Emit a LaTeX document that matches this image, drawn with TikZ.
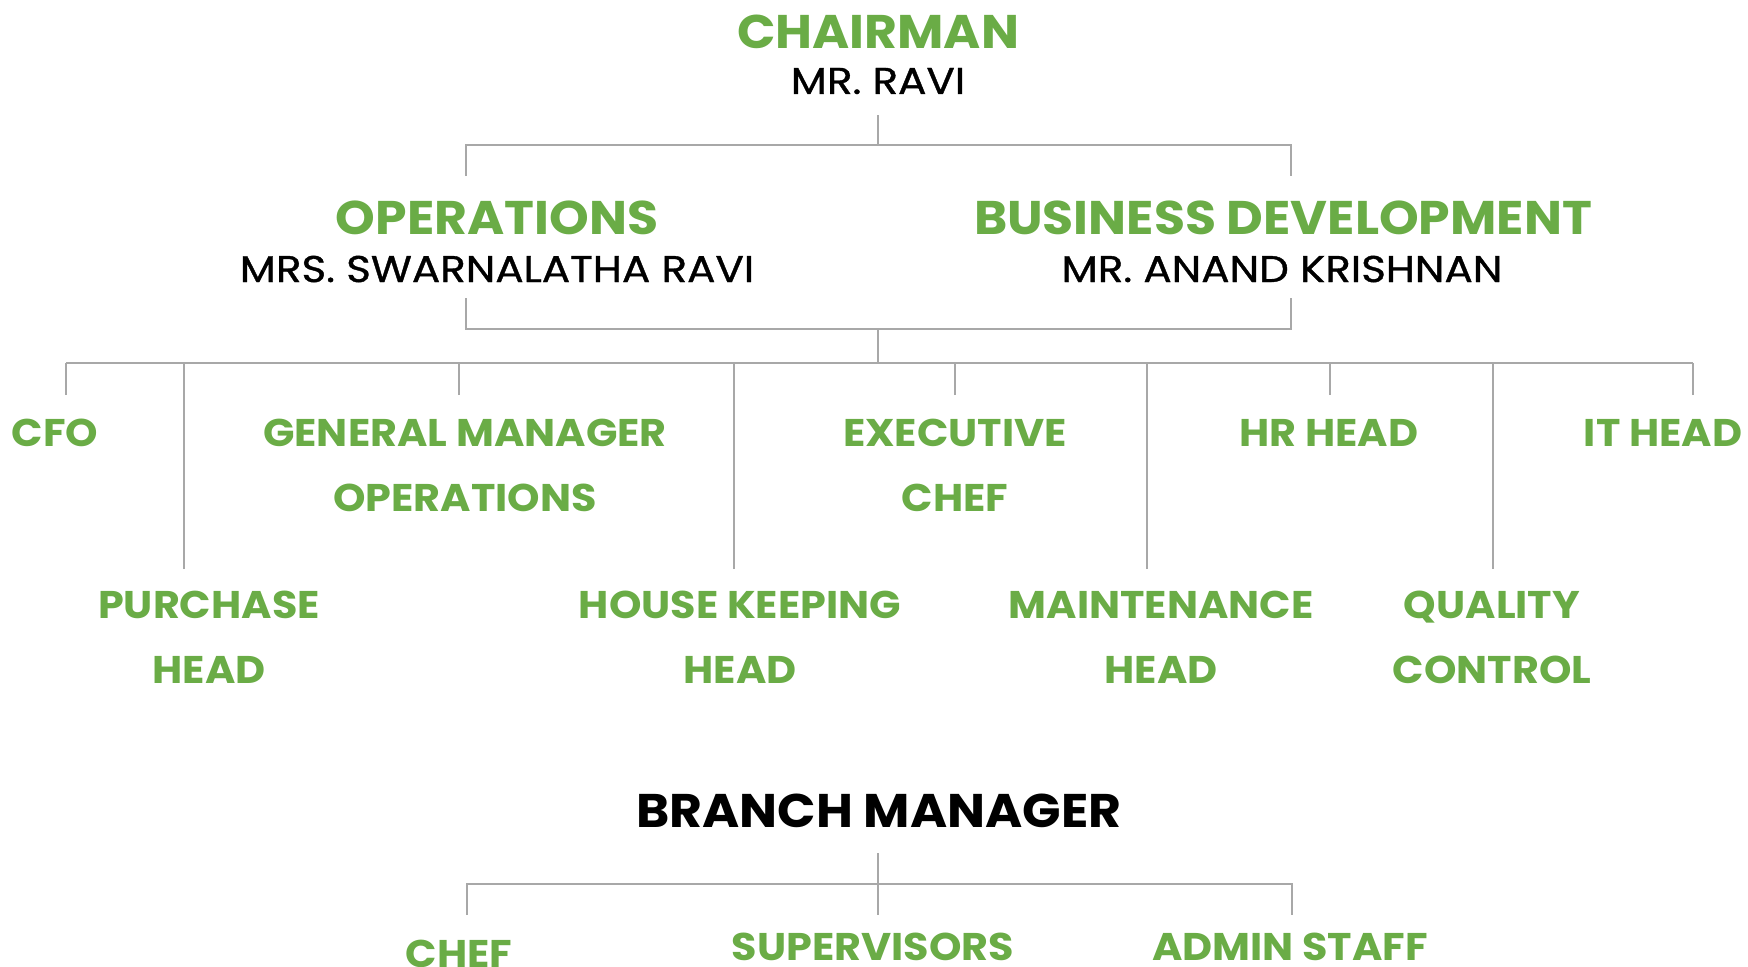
\documentclass[tikz,border=0pt]{standalone}
\usepackage{fontspec}
\setmainfont{Poppins}
\newfontfamily\widefont[FakeStretch=1.07]{Poppins}
\newfontfamily\personfont[FakeStretch=1.13,FakeBold=1]{Poppins}
\definecolor{leafgreen}{RGB}{106,172,70}
\definecolor{linegray}{RGB}{168,168,168}

\begin{document}
\begin{tikzpicture}[x=0.5pt,y=-0.5pt,
  head/.style={text=leafgreen,inner sep=0pt,font=\widefont\fontsize{23.6}{28}\selectfont\bfseries},
  person/.style={text=black,inner sep=0pt,font=\personfont\fontsize{18.6}{24}\selectfont},
  role/.style={text=leafgreen,inner sep=0pt,align=center,font=\widefont\fontsize{19.3}{32.5}\selectfont\bfseries},
  boss/.style={text=black,inner sep=0pt,font=\widefont\fontsize{23.6}{28}\selectfont\bfseries},
  link/.style={draw=linegray,line width=1.25pt}]
\useasboundingbox (0,0) rectangle (1748,966);
% Chairman on top
\node[head] (chair) at (878,32) {CHAIRMAN};
\node[person] (chairname) at (878,81) {MR. RAVI};
% Bracket down to the two directors
\coordinate (chair-out) at (878,115);
\coordinate (ops-in) at (466,176);
\coordinate (bd-in) at (1291,176);
\draw[link] (chair-out) -- (878,145) coordinate (topbar);
\draw[link] (ops-in) |- (topbar) -| (bd-in);
% The two directors
\node[head] (ops) at (497,218) {OPERATIONS};
\node[person] (opsname) at (497,269) {MRS. SWARNALATHA RAVI};
\node[head] (bd) at (1283,218) {BUSINESS DEVELOPMENT};
\node[person] (bdname) at (1282,269) {MR. ANAND KRISHNAN};
% Bracket joining the directors
\coordinate (ops-out) at (466,298);
\coordinate (bd-out) at (1291,298);
\draw[link] (ops-out) |- (878,329) coordinate (join) -| (bd-out);
\draw[link] (join) -- (878,363) coordinate (rowbar);
% Long bar over the heads of department
\draw[link] (66,363) -- (1693,363);
% Short drops (upper row)
\coordinate (cfo-in) at (66,395);
\coordinate (gm-in) at (459,395);
\coordinate (chef-in) at (955,395);
\coordinate (hr-in) at (1330,395);
\coordinate (it-in) at (1693,395);
\draw[link] (cfo-in) -- (cfo-in |- rowbar);
\draw[link] (gm-in) -- (gm-in |- rowbar);
\draw[link] (chef-in) -- (chef-in |- rowbar);
\draw[link] (hr-in) -- (hr-in |- rowbar);
\draw[link] (it-in) -- (it-in |- rowbar);
% Long drops (lower row)
\coordinate (pur-in) at (184,569);
\coordinate (hk-in) at (734,569);
\coordinate (mnt-in) at (1147,569);
\coordinate (qc-in) at (1493,569);
\draw[link] (pur-in) -- (pur-in |- rowbar);
\draw[link] (hk-in) -- (hk-in |- rowbar);
\draw[link] (mnt-in) -- (mnt-in |- rowbar);
\draw[link] (qc-in) -- (qc-in |- rowbar);
% Heads of department, upper row
\node[role] (cfo) at (55,433) {CFO};
\node[role] (gm) at (465,465.5) {GENERAL MANAGER\\OPERATIONS};
\node[role] (exchef) at (955,465.5) {EXECUTIVE\\CHEF};
\node[role] (hr) at (1329,433) {HR HEAD};
\node[role] (it) at (1663,433) {IT HEAD};
% Heads of department, lower row
\node[role] (pur) at (209,637) {PURCHASE\\HEAD};
\node[role] (hk) at (740,637) {HOUSE KEEPING\\HEAD};
\node[role] (mnt) at (1161,637) {MAINTENANCE\\HEAD};
\node[role] (qc) at (1492,637) {QUALITY\\CONTROL};
% Branch manager and staff
\node[boss] (branch) at (879,811) {BRANCH MANAGER};
\coordinate (branch-out) at (878,853);
\draw[link] (branch-out) -- (878,884) coordinate (brbar);
\coordinate (bchef-in) at (467,915);
\coordinate (sup-in) at (878,915);
\coordinate (adm-in) at (1292,915);
\draw[link] (bchef-in) |- (brbar) -| (adm-in);
\draw[link] (brbar) -- (sup-in);
\node[role] (bchef) at (459,953.5) {CHEF};
\node[role] (sup) at (873,946.5) {SUPERVISORS};
\node[role] (adm) at (1290,946.5) {ADMIN STAFF};
\end{tikzpicture}
\end{document}
